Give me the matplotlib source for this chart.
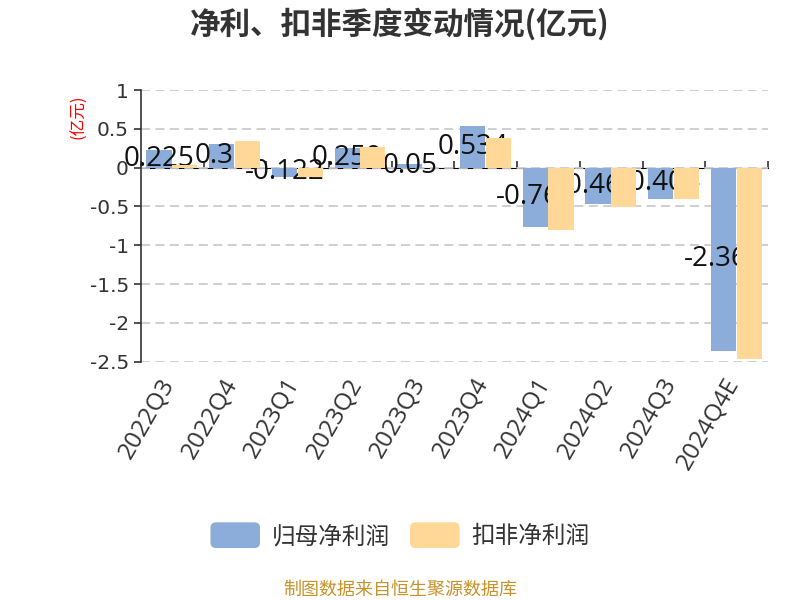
import matplotlib
matplotlib.use('Agg')
import matplotlib.pyplot as plt
from matplotlib.patches import FancyBboxPatch, Patch
from matplotlib.legend_handler import HandlerPatch
from matplotlib.ticker import FuncFormatter
from matplotlib.transforms import ScaledTranslation
import numpy as np

plt.rcParams['font.family'] = ['Noto Sans CJK SC', 'DejaVu Sans']
plt.rcParams['axes.unicode_minus'] = False
tick_font = ['DejaVu Sans', 'Noto Sans CJK SC']
label_font = ['Open Sans', 'DejaVu Sans']

quarters = ['2022Q3', '2022Q4', '2023Q1', '2023Q2', '2023Q3',
            '2023Q4', '2024Q1', '2024Q2', '2024Q3', '2024Q4E']
net_profit = [0.225, 0.31, -0.122, 0.259, 0.05, 0.534, -0.763, -0.462, -0.404, -2.365]
deducted_profit = [0.03, 0.34, -0.12, 0.26, 0.0, 0.385, -0.80, -0.51, -0.41, -2.47]
blue = '#8CADD9'
orange = '#FFD898'


class RoundHandler(HandlerPatch):
    def create_artists(self, legend, orig_handle, xdescent, ydescent,
                       width, height, fontsize, trans):
        p = FancyBboxPatch((-xdescent, -ydescent), width, height,
                           boxstyle='round,pad=0,rounding_size=4',
                           facecolor=orig_handle.get_facecolor(),
                           edgecolor='none', transform=trans)
        return [p]


fig = plt.figure(figsize=(8, 6), dpi=100)
ax = fig.add_axes([0.176, 0.397, 0.784, 0.453])

x = np.arange(len(quarters))
w = 0.4
ax.bar(x - 0.21, net_profit, w, color=blue, zorder=2)
for xi, v in zip(x, net_profit):
    ax.text(xi - 0.21, v / 2, f'{v:g}', ha='center', va='center',
            fontsize=20, color='#111111', family=label_font, zorder=3)
ax.bar(x + 0.2, deducted_profit, w, color=orange, zorder=4)

ax.set_xlim(-0.5, len(quarters) - 0.5)
ax.set_ylim(-2.5, 1)
ax.set_yticks(np.arange(-2.5, 1.01, 0.5))
ax.yaxis.set_major_formatter(FuncFormatter(lambda v, p: f'{v:g}'))
ax.yaxis.grid(True, linestyle=(0, (5, 3)), color='#cccccc', linewidth=1.3, zorder=0)
ax.tick_params(axis='y', labelsize=14.5, labelcolor='#333333', color='#333333',
               length=5, width=1.2)
for t in ax.get_yticklabels():
    t.set_family(tick_font)

ax.set_xticks(x)
ax.set_xticklabels(quarters, rotation=60, ha='right', va='center',
                   rotation_mode='anchor', fontsize=17.5, color='#333333',
                   family=label_font)
ax.tick_params(axis='x', length=0, pad=13)
shift = ScaledTranslation(-2 / 72, 0, fig.dpi_scale_trans)
for t in ax.get_xticklabels():
    t.set_transform(t.get_transform() + shift)

for s in ['top', 'right', 'bottom']:
    ax.spines[s].set_visible(False)
ax.spines['left'].set_color('#333333')
ax.spines['left'].set_linewidth(1.2)

zero_axis = ax.secondary_xaxis(2.5 / 3.5)
zero_axis.set_xticks(np.arange(-0.5, len(quarters), 1.0))
zero_axis.set_xticklabels([])
zero_axis.tick_params(length=5, width=1.2, color='#333333', direction='out')
zero_axis.spines['bottom'].set_color('#333333')
zero_axis.spines['bottom'].set_linewidth(1.2)

fig.text(0.099, 0.805, '(亿元)', rotation=90, color='red', fontsize=12,
         ha='center', va='center')

fig.text(0.5, 0.96, '净利、扣非季度变动情况(亿元)', ha='center', va='center',
         fontsize=22, fontweight='bold', color='#333333')

handles = [Patch(facecolor=blue, label='归母净利润'),
           Patch(facecolor=orange, label='扣非净利润')]
fig.legend(handles=handles, loc='center', bbox_to_anchor=(0.5, 0.108), ncol=2,
           frameon=False, fontsize=17, handlelength=2.1, handleheight=1.3,
           handletextpad=0.5, columnspacing=0.85, labelcolor='#333333',
           handler_map={Patch: RoundHandler()})

fig.text(0.5, 0.018, '制图数据来自恒生聚源数据库', ha='center', va='center',
         fontsize=13, color='#C8922A')

fig.savefig('out.png', dpi=100)
